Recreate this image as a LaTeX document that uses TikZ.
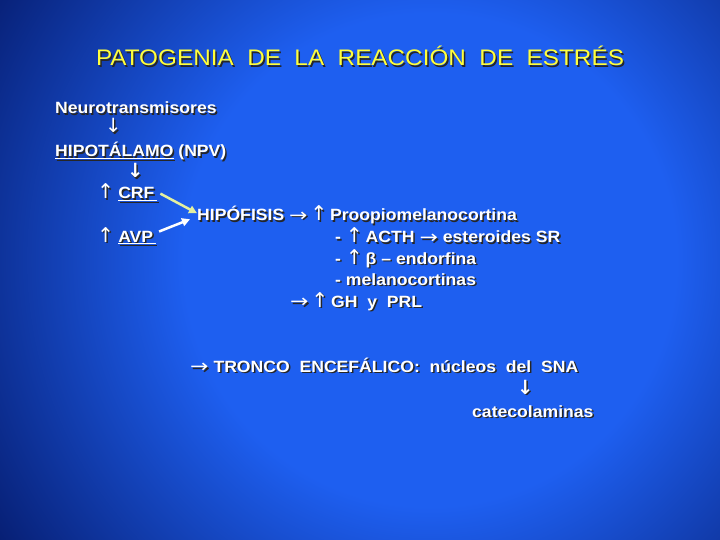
\documentclass[tikz,border=0pt]{standalone}
\usepackage{fontspec}
\setmainfont{Liberation Sans}[FakeStretch=1.08]
\newfontfamily\flechas{DejaVu Sans}
\usetikzlibrary{arrows.meta,calc}

\definecolor{fondoclaro}{RGB}{30,95,240}
\definecolor{fondooscuro}{RGB}{3,20,95}
\definecolor{amarillo}{RGB}{255,255,60}
\definecolor{verdoso}{RGB}{228,240,160}

\pgfdeclareradialshading{fondo}{\pgfpoint{0bp}{0bp}}{color(0bp)=(fondoclaro); color(11bp)=(fondoclaro); color(25bp)=(fondooscuro); color(50bp)=(fondooscuro)}

% flechas finas y gruesas
\newcommand{\arriba}{\scalebox{1.25}{\flechas\mdseries ↑}}
\newcommand{\derecha}{\raisebox{-0.5pt}{\scalebox{1.35}[1.1]{\flechas\mdseries →}}}
\newcommand{\abajo}{\scalebox{1.2}{\flechas\mdseries ↓}}
\newcommand{\abajog}{\scalebox{1.2}{\flechas\bfseries ↓}}

% texto con sombra
\newcommand{\rotulo}[4][texto]{%
  \node[#1,text=black!85] at ($(#3)+(1.5,1.5)$) {#4};
  \node[#1] (#2) at (#3) {#4};}

\begin{document}
\begin{tikzpicture}[x=1pt,y=-1pt,>={Triangle[length=8pt,width=8pt]},
                    texto/.style={text=white,anchor=base west,inner sep=0pt,
                      font=\fontsize{16.3}{20}\selectfont\bfseries},
                    titulo/.style={text=amarillo,anchor=base,inner sep=0pt,
                      font=\fontsize{22.5}{26}\selectfont}]
  \useasboundingbox (0,0) rectangle (720,540);
  \clip (0,0) rectangle (720,540);
  \shade[shading=fondo] (430,260) circle (560);

  \rotulo[titulo]{tit}{360,66}{PATOGENIA~~DE~~LA~~REACCIÓN~~DE~~ESTRÉS}

  \rotulo{neuro}{55,114}{Neurotransmisores}
  \rotulo{f1}{105,133}{\abajo}
  \rotulo{hipo}{55,157}{\underline{HIPOTÁLAMO} (NPV)}
  \rotulo{f2}{127,178}{\abajog}
  \rotulo{crf}{97,199}{\arriba\hspace{4pt}\underline{CRF\,}}
  \rotulo{avp}{97,242}{\arriba\hspace{4pt}\underline{AVP\,}}
  \rotulo{hip}{197,221}{HIPÓFISIS \derecha\,\arriba\,Proopiomelanocortina}
  \rotulo{acth}{335,243}{- \arriba\,ACTH \derecha\ esteroides SR}
  \rotulo{beta}{335,264}{- \arriba\,β – endorfina}
  \rotulo{melano}{335,285}{- melanocortinas}
  \rotulo{gh}{290,307}{\derecha\,\arriba\,GH~~y~~PRL}
  \rotulo{tronco}{190,372}{\derecha\ TRONCO~~ENCEFÁLICO:~~núcleos~~del~~SNA}
  \rotulo{f3}{517,394}{\abajog}
  \rotulo{cat}{472,417}{catecolaminas}

  \draw[->,verdoso,line width=2.5pt] ([xshift=3pt,yshift=-1pt]crf.east) -- ([yshift=2pt]hip.west);
  \draw[->,white,line width=2.5pt] ([xshift=3pt,yshift=4pt]avp.east) -- ([xshift=-7pt,yshift=-4pt]hip.west);
\end{tikzpicture}
\end{document}
